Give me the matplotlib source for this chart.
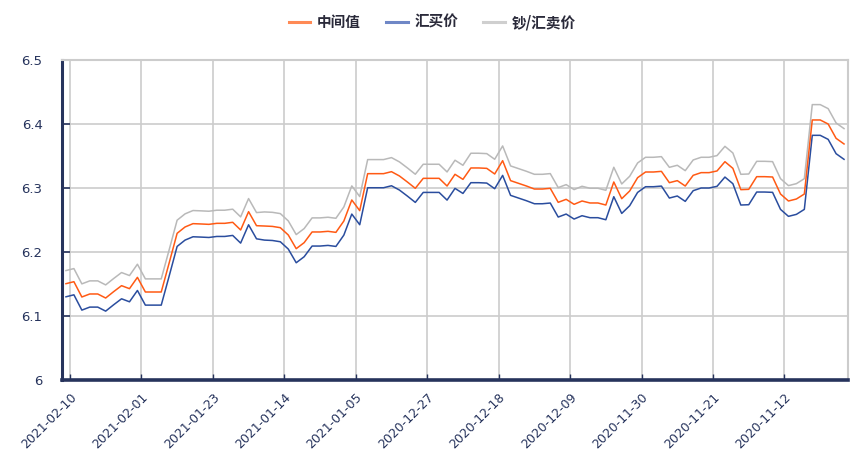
import matplotlib
matplotlib.use('Agg')
import matplotlib.pyplot as plt
from matplotlib.lines import Line2D
import numpy as np

plt.rcParams['font.family'] = ['Noto Sans CJK SC', 'DejaVu Sans']

# x tick labels (every 9th category, newest first)
tick_labels = ['2021-02-10', '2021-02-01', '2021-01-23', '2021-01-14', '2021-01-05',
               '2020-12-27', '2020-12-18', '2020-12-09', '2020-11-30', '2020-11-21',
               '2020-11-12']

# 中间值 (middle rate)
mid = [6.1505, 6.1536, 6.1297, 6.1344, 6.1344, 6.1281, 6.1380, 6.1474, 6.1427, 6.1604,
       6.1375, 6.1375, 6.1375, 6.1830, 6.2292, 6.2391, 6.2443, 6.2438, 6.2432, 6.2448,
       6.2448, 6.2464, 6.2344, 6.2630, 6.2411, 6.2406, 6.2400, 6.2380, 6.2266, 6.2052,
       6.2146, 6.2313, 6.2313, 6.2323, 6.2307, 6.2484, 6.2813, 6.2646, 6.3224, 6.3224,
       6.3224, 6.3255, 6.3188, 6.3094, 6.2995, 6.3151, 6.3151, 6.3151, 6.3031, 6.3214,
       6.3135, 6.3313, 6.3313, 6.3307, 6.3219, 6.3427, 6.3115, 6.3073, 6.3031, 6.2984,
       6.2984, 6.2995, 6.2776, 6.2823, 6.2745, 6.2797, 6.2766, 6.2766, 6.2734, 6.3094,
       6.2833, 6.2953, 6.3161, 6.3250, 6.3250, 6.3260, 6.3083, 6.3115, 6.3031, 6.3198,
       6.3240, 6.3240, 6.3266, 6.3411, 6.3307, 6.2974, 6.2979, 6.3177, 6.3177, 6.3172,
       6.2906, 6.2797, 6.2828, 6.2906, 6.4063, 6.4063, 6.4000, 6.3776, 6.3688]

# 汇买价 (buying rate)
buy = [6.1300, 6.1331, 6.1092, 6.1139, 6.1139, 6.1076, 6.1175, 6.1269, 6.1222, 6.1399,
       6.1170, 6.1170, 6.1170, 6.1625, 6.2087, 6.2186, 6.2238, 6.2233, 6.2227, 6.2243,
       6.2243, 6.2259, 6.2139, 6.2425, 6.2206, 6.2186, 6.2180, 6.2160, 6.2046, 6.1832,
       6.1926, 6.2093, 6.2093, 6.2103, 6.2087, 6.2264, 6.2593, 6.2426, 6.3004, 6.3004,
       6.3004, 6.3035, 6.2968, 6.2874, 6.2775, 6.2931, 6.2931, 6.2931, 6.2811, 6.2994,
       6.2915, 6.3083, 6.3083, 6.3077, 6.2989, 6.3197, 6.2885, 6.2843, 6.2801, 6.2754,
       6.2754, 6.2765, 6.2546, 6.2593, 6.2515, 6.2567, 6.2536, 6.2536, 6.2504, 6.2864,
       6.2603, 6.2723, 6.2931, 6.3020, 6.3020, 6.3030, 6.2843, 6.2875, 6.2791, 6.2958,
       6.3000, 6.3000, 6.3026, 6.3171, 6.3067, 6.2734, 6.2739, 6.2937, 6.2937, 6.2932,
       6.2666, 6.2557, 6.2588, 6.2666, 6.3823, 6.3823, 6.3760, 6.3536, 6.3448]

# 钞/汇卖价 (selling rate)
sell = [6.1710, 6.1741, 6.1502, 6.1549, 6.1549, 6.1486, 6.1585, 6.1679, 6.1632, 6.1809,
        6.1580, 6.1580, 6.1580, 6.2035, 6.2497, 6.2596, 6.2648, 6.2643, 6.2637, 6.2653,
        6.2653, 6.2669, 6.2549, 6.2835, 6.2616, 6.2626, 6.2620, 6.2600, 6.2486, 6.2272,
        6.2366, 6.2533, 6.2533, 6.2543, 6.2527, 6.2704, 6.3033, 6.2866, 6.3444, 6.3444,
        6.3444, 6.3475, 6.3408, 6.3314, 6.3215, 6.3371, 6.3371, 6.3371, 6.3251, 6.3434,
        6.3355, 6.3543, 6.3543, 6.3537, 6.3449, 6.3657, 6.3345, 6.3303, 6.3261, 6.3214,
        6.3214, 6.3225, 6.3006, 6.3053, 6.2975, 6.3027, 6.2996, 6.2996, 6.2964, 6.3324,
        6.3063, 6.3183, 6.3391, 6.3480, 6.3480, 6.3490, 6.3323, 6.3355, 6.3271, 6.3438,
        6.3480, 6.3480, 6.3506, 6.3651, 6.3547, 6.3214, 6.3219, 6.3417, 6.3417, 6.3412,
        6.3146, 6.3037, 6.3068, 6.3146, 6.4303, 6.4303, 6.4240, 6.4016, 6.3928]

y_ticks = [6.0, 6.1, 6.2, 6.3, 6.4, 6.5]
y_tick_labels = ['6', '6.1', '6.2', '6.3', '6.4', '6.5']

navy = '#26335c'
grid_c = '#cccccc'

x = np.arange(len(mid))
fig = plt.figure(figsize=(8.64, 4.68), dpi=100)
ax = fig.add_axes([62 / 864, 88 / 468, 786 / 864, 320 / 468])

ax.plot(x, sell, color='#b9b9b9', lw=1.1, zorder=3)
ax.plot(x, buy, color='#2a4d9e', lw=1.1, zorder=4)
ax.plot(x, mid, color='#ff5a14', lw=1.1, zorder=5)

ax.set_xlim(-0.5, len(mid) - 0.5)
ax.set_ylim(6.0, 6.5)

tick_pos = np.arange(len(tick_labels)) * 9 + 0.5
ax.set_xticks(tick_pos)
ax.set_xticklabels(tick_labels, rotation=45, ha='right', rotation_mode='anchor',
                   fontsize=9, color=navy, family='DejaVu Sans')
ax.set_yticks(y_ticks)
ax.set_yticklabels(y_tick_labels, fontsize=9.5, color=navy, family='DejaVu Sans')

ax.tick_params(axis='x', direction='in', length=4, width=1, color=navy, pad=8)
ax.tick_params(axis='y', direction='in', length=6, width=1.2, color=navy, pad=14)

ax.grid(True, color=grid_c, lw=1.2)
ax.set_axisbelow(True)

for s in ['top', 'right']:
    ax.spines[s].set_color(grid_c)
    ax.spines[s].set_linewidth(1.5)
ax.spines['left'].set_color(navy)
ax.spines['left'].set_linewidth(2.2)
ax.spines['bottom'].set_color(navy)
ax.spines['bottom'].set_linewidth(2.6)

handles = [Line2D([], [], color='#ff8a55', lw=2.2),
           Line2D([], [], color='#6f87c6', lw=2.2),
           Line2D([], [], color='#cfcfcf', lw=2.2)]
fig.legend(handles=handles, labels=['中间值', '汇买价', '钞/汇卖价'],
           loc='center', bbox_to_anchor=(0.5, 1 - 22 / 468),
           ncol=3, frameon=False, prop={'size': 10.5, 'weight': 'bold'},
           handlelength=1.5, handletextpad=0.45, columnspacing=1.7,
           labelcolor='#2a2a3a')

fig.savefig('out.png', dpi=100)
